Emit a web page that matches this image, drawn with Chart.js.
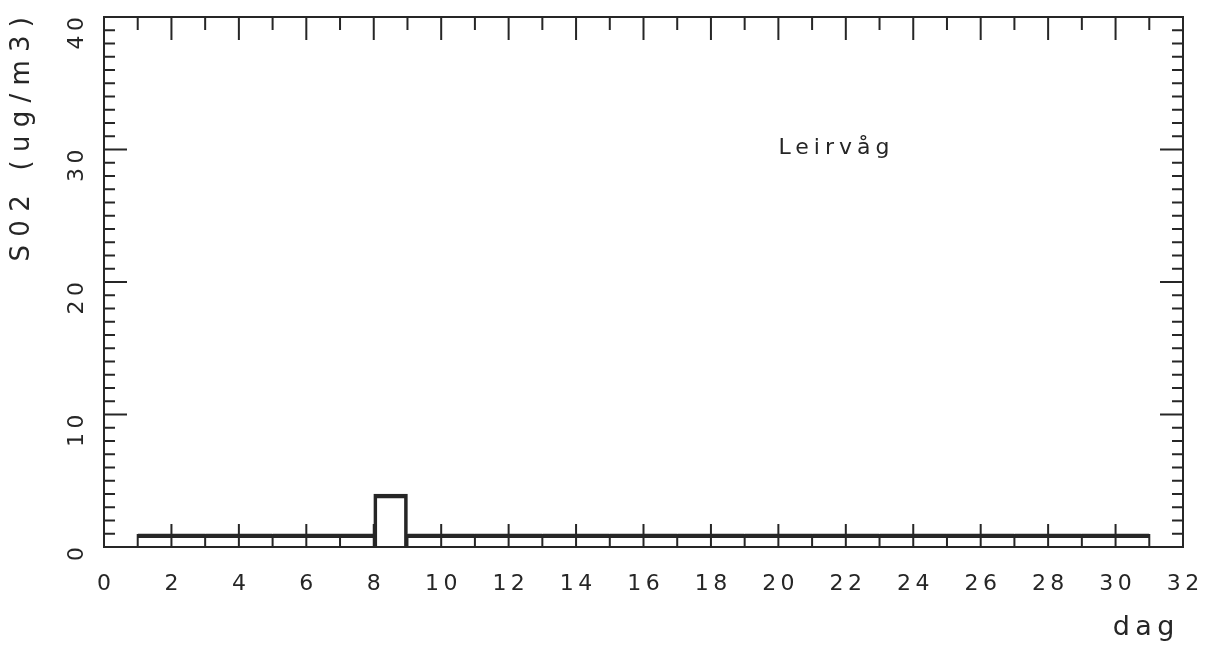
<!DOCTYPE html>
<html>
<head>
<meta charset="utf-8">
<script src="https://cdn.jsdelivr.net/npm/chart.js@4/dist/chart.umd.min.js"></script>
<style>
  html, body { margin: 0; padding: 0; background: #fff; }
  #wrap { width: 1207px; height: 646px; }
</style>
</head>
<body>
<div id="wrap"><canvas id="chart"></canvas></div>
<script>
"use strict";

// daily SO2 means, one bar per day
const days = [1, 2, 3, 4, 5, 6, 7, 8, 9, 10, 11, 12, 13, 14, 15,
              16, 17, 18, 19, 20, 21, 22, 23, 24, 25, 26, 27, 28, 29, 30];
const so2 = [1, 1, 1, 1, 1, 1, 1, 4, 1, 1, 1, 1, 1, 1, 1,
             1, 1, 1, 1, 1, 1, 1, 1, 1, 1, 1, 1, 1, 1, 1];

const xTicks = [0, 2, 4, 6, 8, 10, 12, 14, 16, 18, 20, 22, 24, 26, 28, 30, 32];
const yTicks = [0, 10, 20, 30, 40];

const stationName = 'Leirvåg';
const xTitle = 'dag';
const yTitle = 'S02 (ug/m3)';

const INK = '#262626';
const FONT = "'DejaVu Sans', sans-serif";
const THIN = '\u2009';

// spread characters out like the plotter lettering
const spaced = (s, gap = ' ') => String(s).split('').join(gap);

// the tall bar gets full-height sides, the rest rely on the axis ticks
const sideWidth = (ctx) => (ctx.raw && ctx.raw.y > 1 ? 3 : 0);

// tick marks pointing inward on all four sides plus the frame
const innerTicks = {
    id: 'innerTicks',
    afterDatasetsDraw(chart) {
        const { ctx, chartArea: a, scales: { x, y } } = chart;
        ctx.save();
        ctx.strokeStyle = INK;
        ctx.lineWidth = 2;
        ctx.beginPath();
        for (let v = x.min; v <= x.max; v++) {
            let px = x.getPixelForValue(v);
            let len = (v % 2 === 0) ? 23 : 13;
            ctx.moveTo(px, a.bottom);
            ctx.lineTo(px, a.bottom - len);
            ctx.moveTo(px, a.top);
            ctx.lineTo(px, a.top + len);
        }
        for (let v = y.min; v <= y.max; v++) {
            let py = y.getPixelForValue(v);
            let len = (v % 10 === 0) ? 23 : 11;
            ctx.moveTo(a.left, py);
            ctx.lineTo(a.left + len, py);
            ctx.moveTo(a.right, py);
            ctx.lineTo(a.right - len, py);
        }
        ctx.rect(a.left, a.top, a.right - a.left, a.bottom - a.top);
        ctx.stroke();
        ctx.restore();
    }
};

// station name written inside the plot
const stationLabel = {
    id: 'stationLabel',
    afterDraw(chart) {
        const { ctx, scales: { x, y } } = chart;
        ctx.save();
        ctx.fillStyle = INK;
        ctx.font = `22px ${FONT}`;
        ctx.letterSpacing = '5px';
        ctx.textAlign = 'left';
        ctx.textBaseline = 'middle';
        ctx.fillText(stationName, x.getPixelForValue(20), y.getPixelForValue(30.1));
        ctx.restore();
    }
};

const config = {
    type: 'bar',
    data: {
        datasets: [{
            data: days.map((d, i) => ({ x: d + 0.5, y: so2[i] })),
            backgroundColor: 'rgba(0,0,0,0)',
            borderColor: INK,
            borderSkipped: false,
            borderWidth: (ctx) => ({ top: 4, bottom: 0, left: sideWidth(ctx), right: sideWidth(ctx) }),
            barPercentage: 1,
            categoryPercentage: 1
        }]
    },
    options: {
        responsive: true,
        maintainAspectRatio: false,
        animation: false,
        layout: { padding: { top: 17, right: 24, left: 0, bottom: 0 } },
        plugins: {
            legend: { display: false },
            tooltip: { enabled: false }
        },
        scales: {
            x: {
                type: 'linear',
                offset: false,
                min: 0,
                max: 32,
                afterFit: (scale) => {
                    scale.height = 99;
                    scale.paddingLeft = 0;
                    scale.paddingRight = 0;
                },
                afterBuildTicks: (scale) => { scale.ticks = xTicks.map(v => ({ value: v })); },
                grid: { display: false },
                border: { display: false },
                ticks: {
                    color: INK,
                    padding: 16,
                    maxRotation: 0,
                    autoSkip: false,
                    font: { family: FONT, size: 22 },
                    callback: (v) => spaced(v, THIN)
                },
                title: {
                    display: true,
                    text: spaced(xTitle, THIN) + ' ',
                    align: 'end',
                    color: INK,
                    font: { family: FONT, size: 27 },
                    padding: { top: 0, bottom: 2 }
                }
            },
            y: {
                type: 'linear',
                min: 0,
                max: 40,
                afterFit: (scale) => {
                    scale.width = 104;
                    scale.paddingTop = 0;
                    scale.paddingBottom = 0;
                },
                afterBuildTicks: (scale) => { scale.ticks = yTicks.map(v => ({ value: v })); },
                grid: { display: false },
                border: { display: false },
                ticks: {
                    color: INK,
                    padding: 19,
                    minRotation: 90,
                    maxRotation: 90,
                    font: { family: FONT, size: 22 },
                    callback: (v) => spaced(v, THIN)
                },
                title: {
                    display: true,
                    text: spaced(yTitle),
                    align: 'end',
                    color: INK,
                    font: { family: FONT, size: 26 },
                    padding: { top: 7, bottom: 0 }
                }
            }
        }
    },
    plugins: [innerTicks, stationLabel]
};

new Chart(document.getElementById('chart'), config);
</script>
</body>
</html>
